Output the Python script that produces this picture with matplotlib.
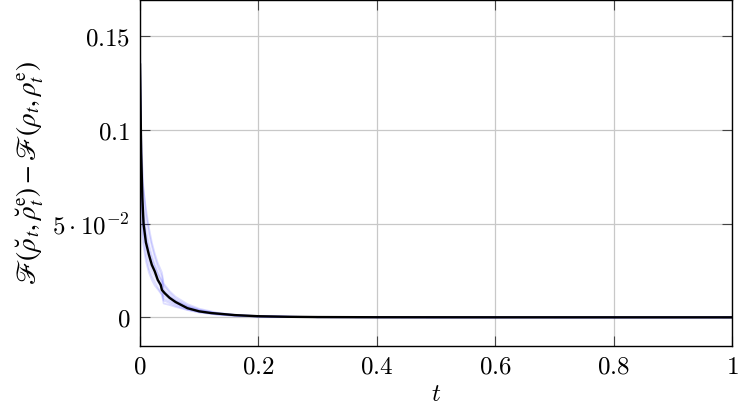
import matplotlib
matplotlib.use("Agg")
import matplotlib.pyplot as plt

plt.rcParams["mathtext.fontset"] = "cm"
plt.rcParams["font.family"] = "serif"
plt.rcParams["font.serif"] = ["DejaVu Serif"]

# mean curve (black)
t_mean = [0, 0.002, 0.004, 0.006, 0.01, 0.015, 0.02, 0.025, 0.03, 0.035, 0.037,
          0.042, 0.05, 0.06, 0.08, 0.1, 0.12, 0.16, 0.2, 0.25, 0.3, 0.4, 0.6, 0.8, 1.0]
mean_gap = [0.135, 0.088, 0.064, 0.050, 0.040, 0.0335, 0.028, 0.0245, 0.020, 0.0173, 0.0146,
            0.0128, 0.0104, 0.0082, 0.0049, 0.0032, 0.0023, 0.0012, 0.0006, 0.0003, 0.00015,
            0.00006, 0.00002, 0.00001, 0.0]

# individual runs (light blue)
t_runs = [0, 0.002, 0.005, 0.01, 0.015, 0.02, 0.025, 0.03, 0.037, 0.04,
          0.05, 0.06, 0.08, 0.1, 0.13, 0.16, 0.2, 0.3, 0.5, 1.0]
run_1 = [0.150, 0.080, 0.055, 0.043, 0.036, 0.031, 0.027, 0.023, 0.019, 0.014,
         0.011, 0.0088, 0.0056, 0.0036, 0.0020, 0.0011, 0.0005, 0.0001, 0.00002, 0]
run_2 = [0.128, 0.066, 0.045, 0.033, 0.026, 0.022, 0.019, 0.016, 0.0125, 0.0090,
         0.0076, 0.0062, 0.0041, 0.0027, 0.0015, 0.0008, 0.0004, 0.0001, 0.00002, 0]
run_3 = [0.142, 0.098, 0.072, 0.055, 0.045, 0.038, 0.032, 0.027, 0.022, 0.017,
         0.013, 0.0100, 0.0063, 0.0041, 0.0023, 0.0013, 0.0006, 0.0001, 0.00002, 0]
run_4 = [0.120, 0.058, 0.040, 0.030, 0.024, 0.020, 0.017, 0.015, 0.012, 0.0074,
         0.0066, 0.0056, 0.0039, 0.0026, 0.0015, 0.0009, 0.0004, 0.0001, 0.00001, 0]
run_5 = [0.138, 0.085, 0.061, 0.047, 0.039, 0.033, 0.028, 0.024, 0.0195, 0.0150,
         0.0115, 0.0090, 0.0058, 0.0038, 0.0021, 0.0012, 0.0006, 0.0001, 0.00002, 0]
run_6 = [0.132, 0.075, 0.055, 0.042, 0.034, 0.029, 0.025, 0.021, 0.0165, 0.0115,
         0.0095, 0.0076, 0.0049, 0.0032, 0.0018, 0.0010, 0.0005, 0.0001, 0.00002, 0]
run_7 = [0.147, 0.094, 0.070, 0.058, 0.048, 0.040, 0.034, 0.029, 0.024, 0.0180,
         0.0140, 0.0110, 0.0071, 0.0046, 0.0025, 0.0014, 0.0007, 0.0001, 0.00002, 0]
run_8 = [0.125, 0.072, 0.050, 0.038, 0.030, 0.025, 0.022, 0.019, 0.0150, 0.0100,
         0.0085, 0.0070, 0.0046, 0.0030, 0.0017, 0.0009, 0.0005, 0.0001, 0.00002, 0]
runs = [run_1, run_2, run_3, run_4, run_5, run_6, run_7, run_8]

x_ticks = [0, 0.2, 0.4, 0.6, 0.8, 1.0]
x_tick_labels = ["$0$", "$0.2$", "$0.4$", "$0.6$", "$0.8$", "$1$"]
y_ticks = [0, 0.05, 0.1, 0.15]
y_tick_labels = ["$0$", r"$5\cdot10^{-2}$", "$0.1$", "$0.15$"]

fig = plt.figure(figsize=(7.47, 4.12), dpi=100)
ax = fig.add_axes([0.1874, 0.1602, 0.7929, 0.8386])

for run in runs:
    ax.plot(t_runs, run, color="blue", alpha=0.13, lw=1.3)
ax.plot(t_mean, mean_gap, color="black", lw=1.7)

ax.set_xlim(0, 1)
ax.set_ylim(-0.0153, 0.1692)
ax.set_xticks(x_ticks, x_tick_labels)
ax.set_yticks(y_ticks, y_tick_labels)
ax.tick_params(direction="in", length=7, width=0.8, color="#444444",
               top=True, right=True, labelsize=18, pad=7)
ax.grid(True, color="#c8c8c8", lw=0.9)
ax.set_axisbelow(True)
for s in ax.spines.values():
    s.set_linewidth(1.0)

ax.set_xlabel("$t$", fontsize=18, labelpad=3)
ax.set_ylabel(r"$\mathscr{F}(\breve{\rho}_t,\breve{\rho}_t^{\mathrm{e}})-\mathscr{F}(\rho_t,\rho_t^{\mathrm{e}})$",
              fontsize=19.5, labelpad=5, math_fontfamily="stix")

fig.savefig("out.png", dpi=100)
